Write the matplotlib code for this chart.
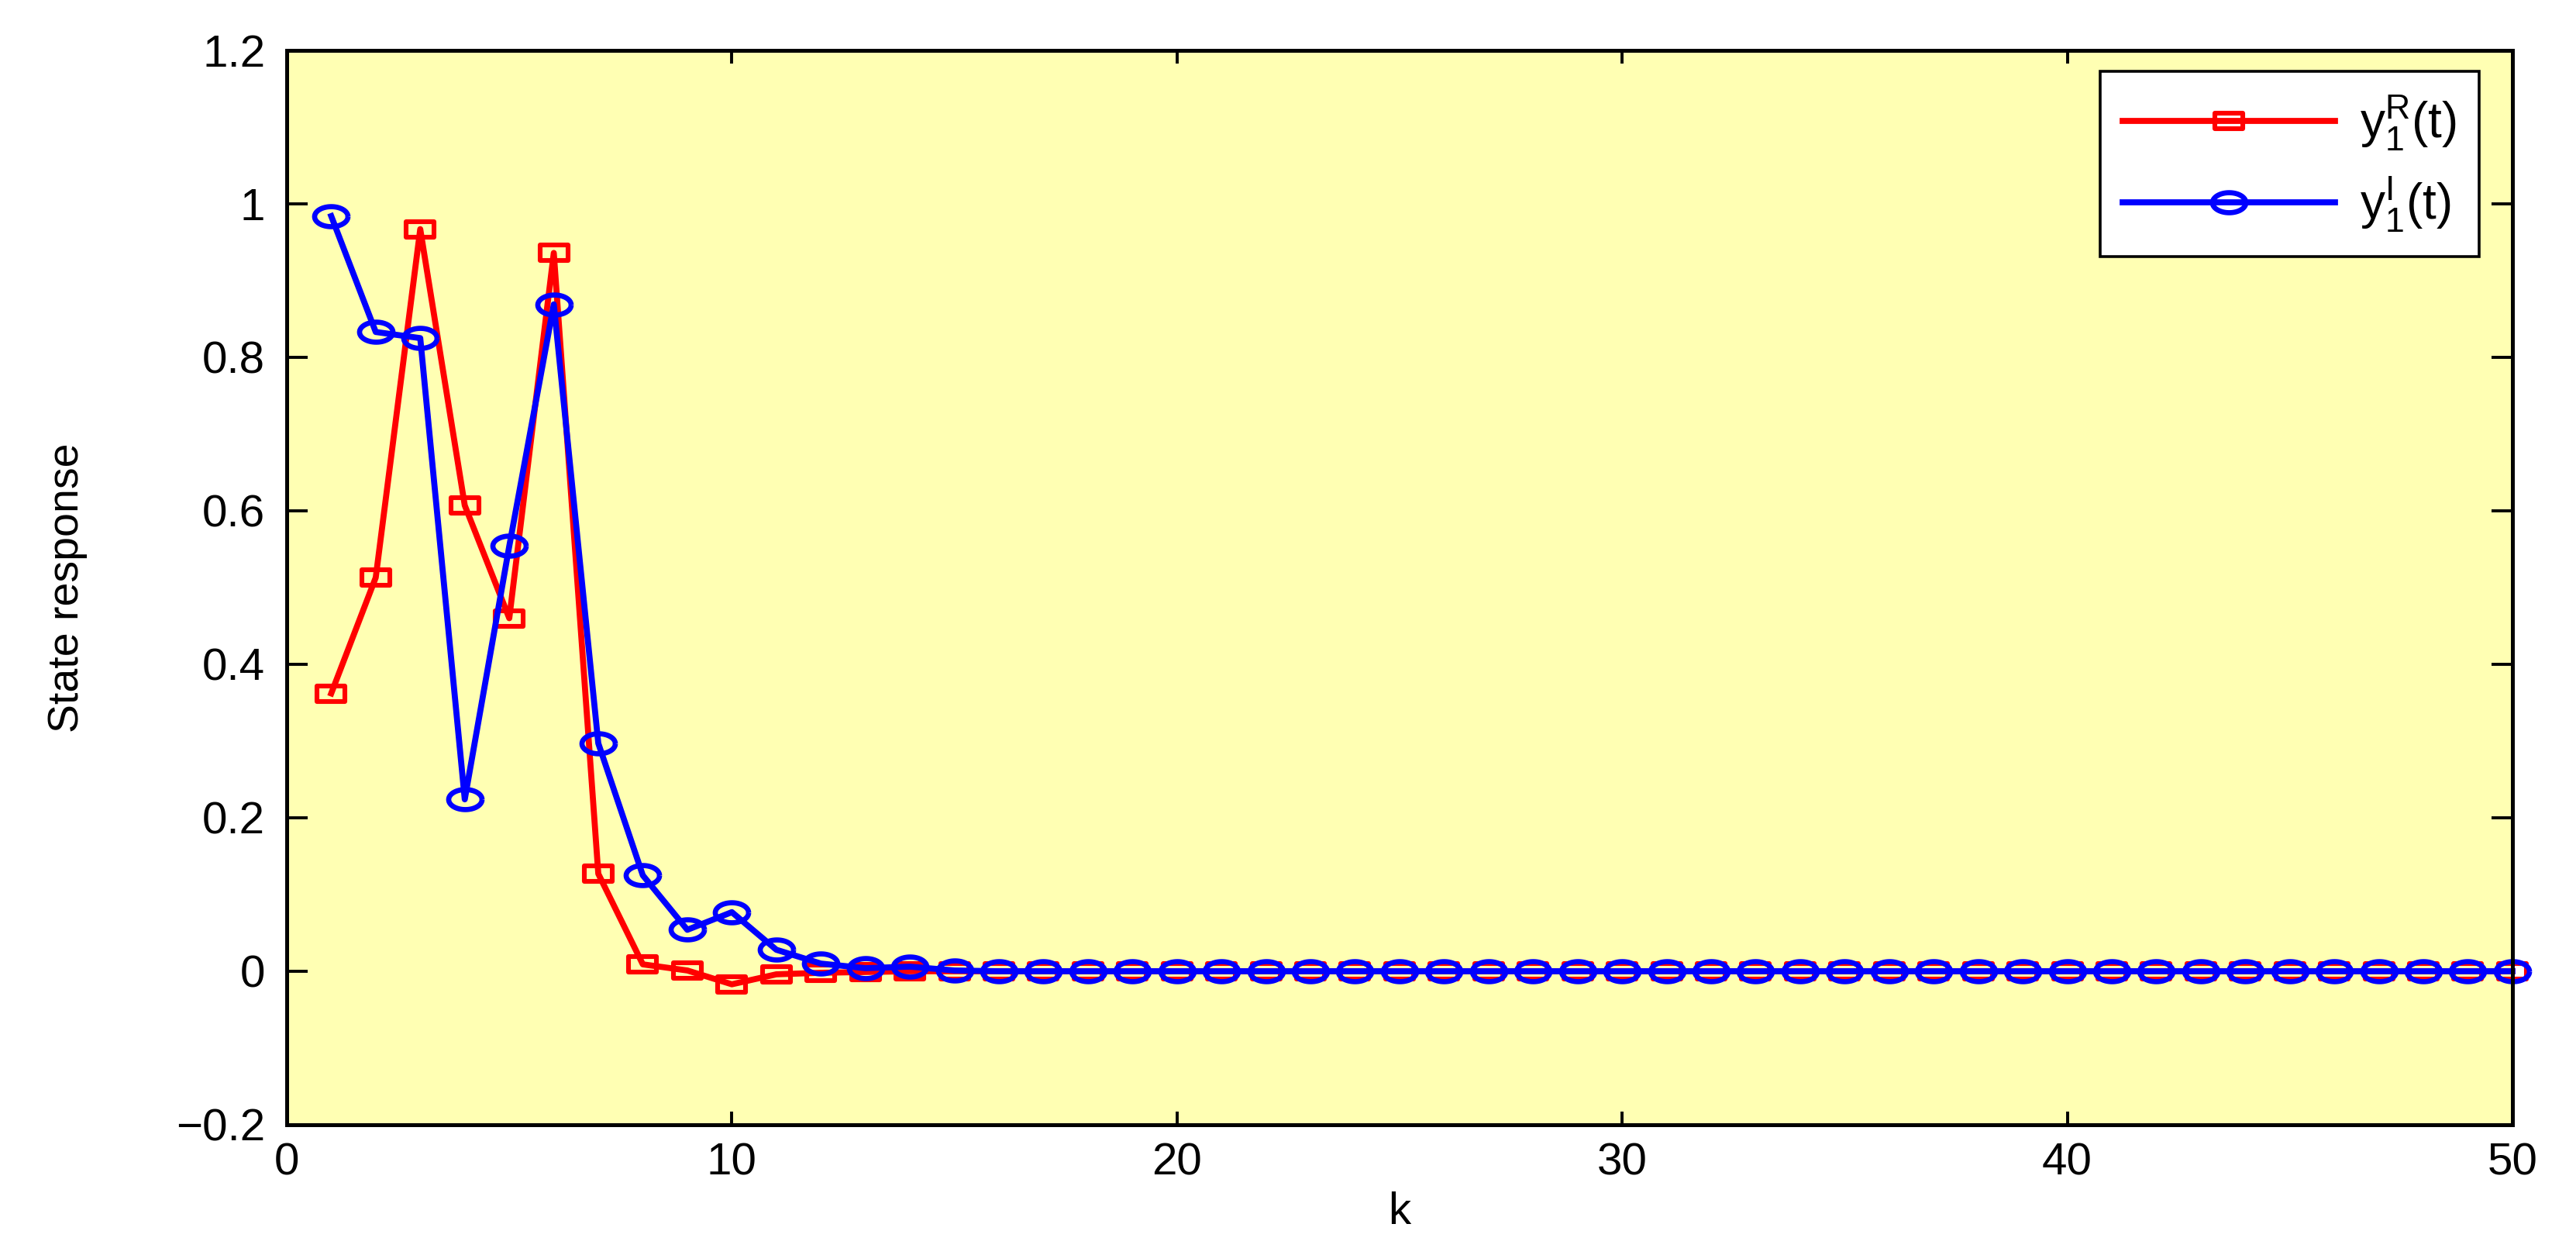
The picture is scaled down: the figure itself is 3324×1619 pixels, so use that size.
import matplotlib
matplotlib.use("Agg")
import matplotlib.pyplot as plt
from matplotlib.path import Path
import numpy as np

# ---- data ----
k = list(range(1, 51))
y_real = [0.362, 0.513, 0.967, 0.607, 0.460, 0.936, 0.127, 0.009, 0.001, -0.017,
          -0.004, -0.002, -0.001, 0.000, 0.000, 0.000, 0.000, 0.000, 0.000, 0.000,
          0.000, 0.000, 0.000, 0.000, 0.000, 0.000, 0.000, 0.000, 0.000, 0.000,
          0.000, 0.000, 0.000, 0.000, 0.000, 0.000, 0.000, 0.000, 0.000, 0.000,
          0.000, 0.000, 0.000, 0.000, 0.000, 0.000, 0.000, 0.000, 0.000, 0.000]
y_imag = [0.984, 0.833, 0.825, 0.224, 0.554, 0.869, 0.297, 0.125, 0.054, 0.077,
          0.028, 0.010, 0.004, 0.006, 0.001, 0.000, 0.000, 0.000, 0.000, 0.000,
          0.000, 0.000, 0.000, 0.000, 0.000, 0.000, 0.000, 0.000, 0.000, 0.000,
          0.000, 0.000, 0.000, 0.000, 0.000, 0.000, 0.000, 0.000, 0.000, 0.000,
          0.000, 0.000, 0.000, 0.000, 0.000, 0.000, 0.000, 0.000, 0.000, 0.000]
x_ticks = [0, 10, 20, 30, 40, 50]
y_ticks = [-0.2, 0.0, 0.2, 0.4, 0.6, 0.8, 1.0, 1.2]
y_tick_labels = ["\u22120.2", "0", "0.2", "0.4", "0.6", "0.8", "1", "1.2"]
labels = [r"$\mathregular{y_1^R(t)}$", r"$\mathregular{y_1^I(t)}$"]

plt.rcParams['font.family'] = ['Liberation Sans', 'DejaVu Sans']
plt.rcParams['mathtext.fontset'] = 'custom'
plt.rcParams['mathtext.rm'] = 'Liberation Sans'
plt.rcParams['mathtext.it'] = 'Liberation Sans'

# flattened markers (reference is stretched horizontally)
rect = Path([(-1, -0.58), (1, -0.58), (1, 0.58), (-1, 0.58), (-1, -0.58)],
            [Path.MOVETO, Path.LINETO, Path.LINETO, Path.LINETO, Path.CLOSEPOLY])
t = np.linspace(0, 2 * np.pi, 61)
ell = Path(np.column_stack([np.cos(t), 0.6 * np.sin(t)]))

fig = plt.figure(figsize=(16.62, 8.095), dpi=200)
ax = fig.add_axes([0.1113, 0.1038, 0.9753 - 0.1113, 0.9599 - 0.1038])
ax.set_facecolor((1.0, 1.0, 0.7))

ax.plot(k, y_real, color=(1, 0, 0), lw=2.8, marker=rect, ms=13,
        mfc='none', mec=(1, 0, 0), mew=2.2, clip_on=False, label=labels[0])
ax.plot(k, y_imag, color=(0, 0, 1), lw=2.8, marker=ell, ms=15.5,
        mfc='none', mec=(0, 0, 1), mew=2.4, clip_on=False, label=labels[1])

ax.set_xlim(0, 50)
ax.set_ylim(-0.2, 1.2)
ax.set_xticks(x_ticks)
ax.set_xticklabels([str(v) for v in x_ticks])
ax.set_yticks(y_ticks)
ax.set_yticklabels(y_tick_labels)

for s in ax.spines.values():
    s.set_linewidth(1.8)
ax.tick_params(axis='both', which='both', direction='in', top=True, right=True,
               width=1.4, labelsize=21, colors='black')
ax.tick_params(axis='x', length=6.0, pad=8)
ax.tick_params(axis='y', length=9.7, pad=10)

ax.set_xlabel("k", fontsize=21)
ax.xaxis.set_label_coords(0.5, -0.062)
ax.set_ylabel("State response", fontsize=20)
ax.yaxis.set_label_coords(-0.0895, 0.5)

leg = ax.legend(loc='upper right', bbox_to_anchor=(0.985, 0.9805), borderaxespad=0,
                fontsize=23, handlelength=4.3, handletextpad=0.5, labelspacing=0.45,
                borderpad=0.45, fancybox=False, framealpha=1, edgecolor='black',
                facecolor='white')
leg.get_frame().set_linewidth(1.3)

fig.savefig("out.png", dpi=200, facecolor='white')
